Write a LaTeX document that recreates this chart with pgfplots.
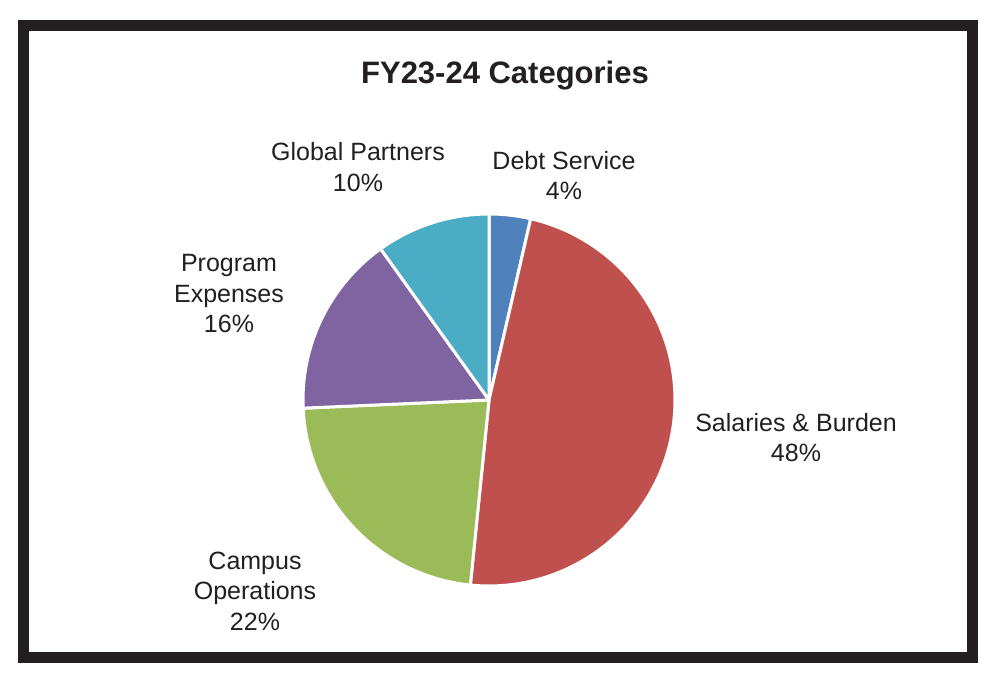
\documentclass[border=0pt]{standalone}
\usepackage{pgfplots}
\pgfplotsset{compat=1.18}
\usepackage{fontspec}
\setmainfont{Liberation Sans}

\definecolor{debt}{HTML}{4F81BD}
\definecolor{salaries}{HTML}{C0504D}
\definecolor{campus}{HTML}{9BBB59}
\definecolor{program}{HTML}{8064A2}
\definecolor{global}{HTML}{4BACC6}
\definecolor{frame}{HTML}{231F20}

% pie centre and radius in picture pixels (y upwards)
\def\cx{489}
\def\cy{284}
\def\r{186}

\begin{document}
\begin{tikzpicture}[
  slice/.style={draw=white, line width=3pt, line join=round},
  lbl/.style={align=center, text=frame, font=\fontsize{25}{30.5}\selectfont}]
\begin{axis}[width=1000pt, height=684pt, scale only axis, hide axis,
  xmin=0, xmax=1000, ymin=0, ymax=684, clip=false, samples=90]
\fill[white] (0,0) rectangle (1000,684);
\draw[line width=11pt, color=frame] (23.5,26.5) rectangle (972.5,658.5);

% shares in percent, clockwise from 12 o'clock: 3.6, 48.0, 22.7, 15.8, 9.9  (3.6 deg per percent)
\addplot[slice, fill=debt,     domain={90-3.6*0}:{90-3.6*3.6}]    ({\cx+\r*cos(x)},{\cy+\r*sin(x)}) -- (\cx,\cy) -- cycle;
\addplot[slice, fill=salaries, domain={90-3.6*3.6}:{90-3.6*51.6}] ({\cx+\r*cos(x)},{\cy+\r*sin(x)}) -- (\cx,\cy) -- cycle;
\addplot[slice, fill=campus,   domain={90-3.6*51.6}:{90-3.6*74.3}] ({\cx+\r*cos(x)},{\cy+\r*sin(x)}) -- (\cx,\cy) -- cycle;
\addplot[slice, fill=program,  domain={90-3.6*74.3}:{90-3.6*90.1}] ({\cx+\r*cos(x)},{\cy+\r*sin(x)}) -- (\cx,\cy) -- cycle;
\addplot[slice, fill=global,   domain={90-3.6*90.1}:{90-3.6*100}]  ({\cx+\r*cos(x)},{\cy+\r*sin(x)}) -- (\cx,\cy) -- cycle;

\node[text=frame, font=\fontsize{31}{36}\selectfont\bfseries] at (505,608) {FY23-24 Categories};
\node[lbl] at (358,517) {Global Partners\\10\%};
\node[lbl] at (564,508.5) {Debt Service\\4\%};
\node[lbl] at (229,390) {Program\\Expenses\\16\%};
\node[lbl] at (796,246.5) {Salaries \& Burden\\48\%};
\node[lbl] at (255,93) {Campus\\Operations\\22\%};
\end{axis}
\end{tikzpicture}
\end{document}
